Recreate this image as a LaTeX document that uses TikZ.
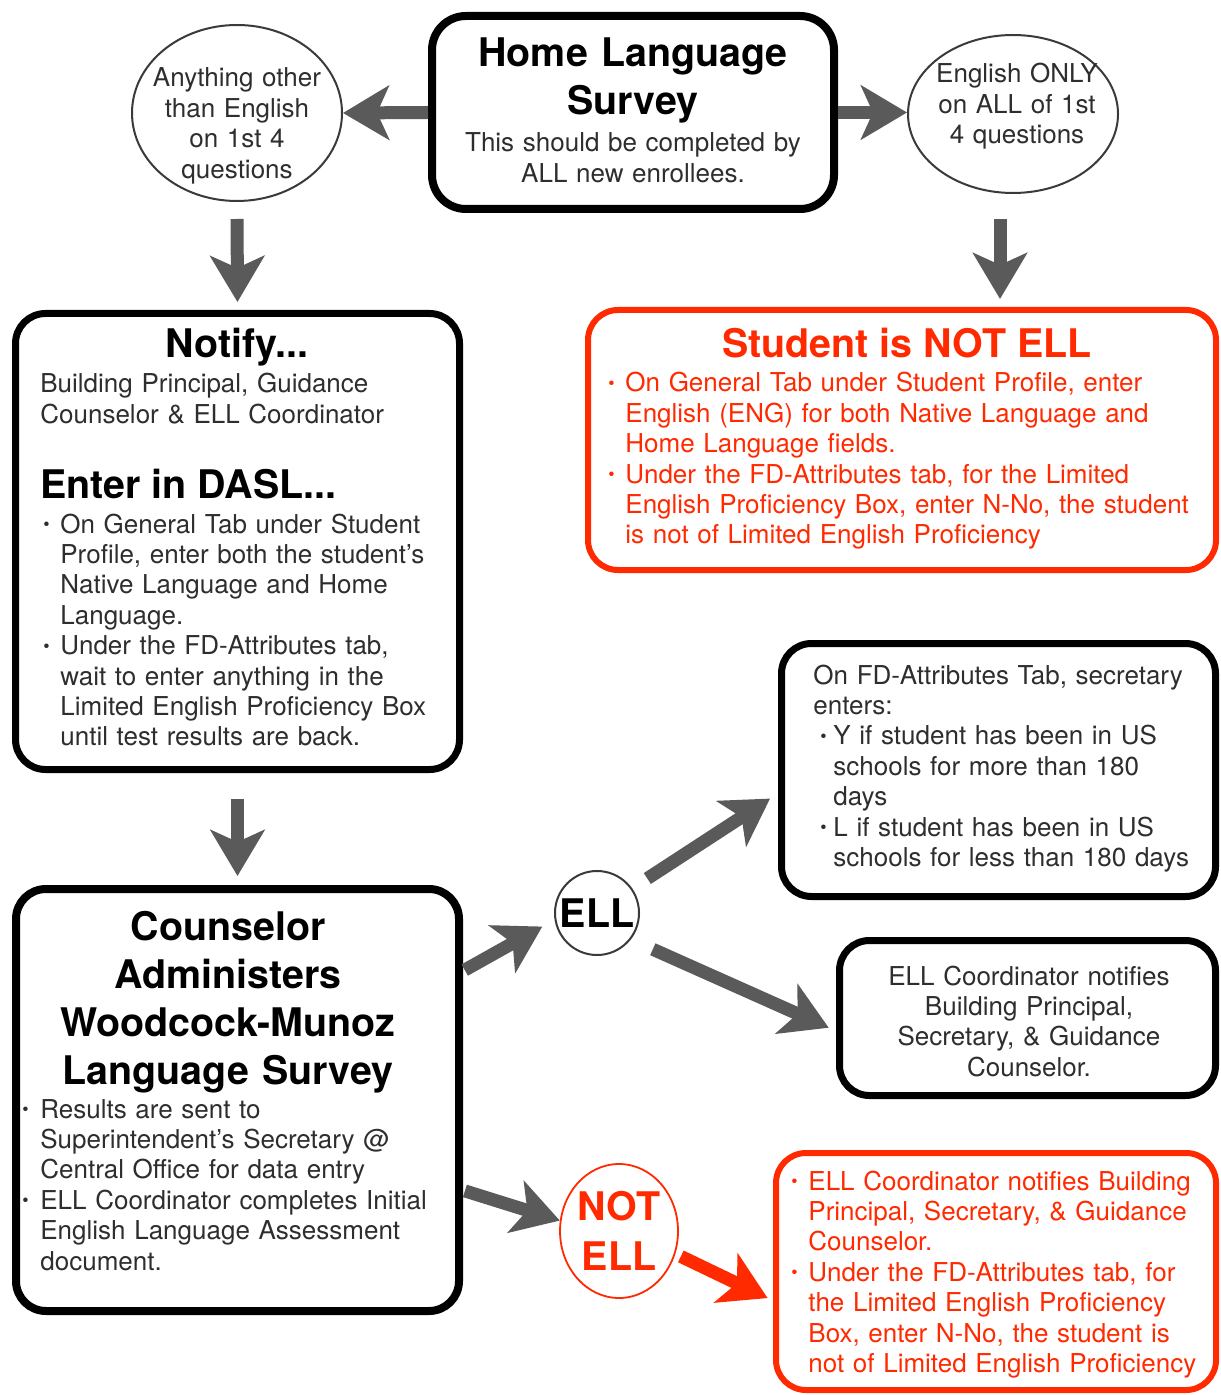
\documentclass[tikz,border=0pt]{standalone}
\usepackage{fontspec}
\setmainfont{TeX Gyre Heros}
\usetikzlibrary{arrows.meta,shapes.geometric,calc}
\definecolor{txt}{HTML}{2E2E2E}
\definecolor{agray}{HTML}{5A5A5A}
\definecolor{ered}{HTML}{FF2A00}
\definecolor{egray}{HTML}{3A3A3A}
\newcommand\bsym{\raisebox{1.2pt}{\fontsize{9}{9}\selectfont\textbullet}}
\newcommand\bul[2][0pt]{\noindent\hangindent=\dimexpr#1+#2\relax\hangafter=1\hspace*{#1}\makebox[#2][l]{\bsym}\ignorespaces}
\tikzset{
  bbox/.style={draw=black, line width=3.5pt, rounded corners=15pt, fill=white, inner sep=0pt},
  rbox/.style={draw=ered, line width=3pt, rounded corners=15pt, fill=white, inner sep=0pt},
  reg/.style={font=\fontsize{13}{15.2}\selectfont, text=txt, inner sep=0pt},
  ttl/.style={font=\bfseries\fontsize{19.7}{24}\selectfont, text=black, inner sep=0pt},
  garrow/.style={draw=agray, line width=6.5pt, -{Stealth[length=23pt,width=27pt,inset=6pt]}},
  rarrow/.style={draw=ered, line width=6.5pt, -{Stealth[length=23pt,width=27pt,inset=6pt]}},
}
\begin{document}
\begin{tikzpicture}[x=0.5pt,y=-0.5pt]
\path[use as bounding box, fill=white] (0,0) rectangle (1220,1395);

% boxes
\node[bbox, line width=4pt, rounded corners=17pt, minimum width=201pt, minimum height=96.5pt] (home) at (633,112.5) {};
\node[bbox, minimum width=222pt, minimum height=228pt] (notify) at (237.5,541.5) {};
\node[rbox, minimum width=314pt, minimum height=130pt] (redtop) at (902,440) {};
\node[bbox, line width=4pt, minimum width=221.5pt, minimum height=211pt] (couns) at (237.5,1100) {};
\node[bbox, minimum width=217pt, minimum height=126.5pt] (fd) at (998.5,770) {};
\node[bbox, minimum width=188pt, minimum height=77.5pt] (coord) at (1027.5,1018) {};
\node[rbox, minimum width=220pt, minimum height=118.5pt] (bred) at (996,1271.5) {};

% ellipses
\node[ellipse, draw=egray, line width=1pt, minimum width=105pt, minimum height=88pt, inner sep=0pt] (lell) at (237,113) {};
\node[ellipse, draw=egray, line width=1pt, minimum width=105pt, minimum height=79pt, inner sep=0pt] (rell) at (1013,114) {};
\node[circle, draw=egray, line width=1pt, minimum size=42pt, inner sep=0pt, ttl] (ell) at (597,913) {ELL};
\node[ellipse, draw=ered, line width=0.9pt, minimum width=59pt, minimum height=67pt, inner sep=0pt, ttl, text=ered, align=center, font=\bfseries\fontsize{19.7}{25}\selectfont] (notell) at (619,1231) {NOT\\ELL};

% texts
\node[ttl, anchor=base, text width=200pt, align=center] (homet) at (633,67) {Home Language\\Survey};
\node[reg, anchor=base, text width=200pt, align=center] (homes) at (633,152) {This should be completed by\\ALL new enrollees.};

\node[reg, anchor=base, text width=110pt, align=center] (lellt) at (237,87) {Anything other\\than English\\on 1st 4\\questions};
\node[reg, anchor=base, text width=110pt, align=center] (rellt) at (1017,83) {English ONLY\\on ALL of 1st\\4 questions};

\node[ttl, anchor=base] (notifyt) at (237,358) {Notify...};
\node[reg, anchor=base west, text width=215pt] (notifyb) at (40,393) {Building Principal, Guidance\newline Counselor \& ELL Coordinator};
\node[ttl, anchor=base west] (daslt) at (40,498) {Enter in DASL...};
\node[reg, anchor=base west, text width=215pt] (daslb) at (43,533) {\bul{8.5pt}On General Tab under Student\newline Profile, enter both the student’s\newline Native Language and Home\newline Language.\par
\bul{8.5pt}Under the FD-Attributes tab,\newline wait to enter anything in the\newline Limited English Proficiency Box\newline until test results are back.\par};

\node[ttl, text=ered, anchor=base] (redtopt) at (907,358) {Student is NOT ELL};
\node[reg, text=ered, anchor=base west, text width=330pt] (redtopb) at (608,392) {\bul{8.5pt}On General Tab under Student Profile, enter\newline English (ENG) for both Native Language and\newline Home Language fields.\par
\bul{8.5pt}Under the FD-Attributes tab, for the Limited\newline English Proficiency Box, enter N-No, the student\newline is not of Limited English Proficiency\par};

\node[ttl, anchor=base, text width=230pt, align=center] (counst) at (228,940) {Counselor\\Administers\\Woodcock-Munoz\\Language Survey};
\node[reg, anchor=base west, text width=240pt] (counsb) at (22,1118) {\bul{9pt}Results are sent to\newline Superintendent’s Secretary @\newline Central Office for data entry\par
\bul{9pt}ELL Coordinator completes Initial\newline English Language Assessment\newline document.\par};

\node[reg, anchor=base west, text width=230pt] (fdb) at (813,684) {\noindent On FD-Attributes Tab, secretary\newline enters:\par
\bul[3.5pt]{6.5pt}Y if student has been in US\newline schools for more than 180\newline days\par
\bul[3.5pt]{6.5pt}L if student has been in US\newline schools for less than 180 days\par};

\node[reg, anchor=base, text width=200pt, align=center] (coordb) at (1029,985) {ELL Coordinator notifies\\Building Principal,\\Secretary, \& Guidance\\Counselor.};

\node[reg, text=ered, anchor=base west, text width=240pt] (bredb) at (791,1190) {\bul{8.5pt}ELL Coordinator notifies Building\newline Principal, Secretary, \& Guidance\newline Counselor.\par
\bul{8.5pt}Under the FD-Attributes tab, for\newline the Limited English Proficiency\newline Box, enter N-No, the student is\newline not of Limited English Proficiency\par};

% arrows
\draw[garrow] (home.west) -- (lell.east);
\draw[garrow] (home.east) -- (home.east -| rell.west);
\draw[garrow, shorten <=8.5pt, shorten >=4pt] (lell.south) -- (notify.north);
\draw[garrow, shorten <=12.5pt, shorten >=4pt] ([xshift=-6.5pt]rell.south) -- ([xshift=-6.5pt]rell.south |- redtop.north);
\draw[garrow, shorten <=12.75pt, shorten >=4.5pt] (notify.south) -- (couns.north);
\draw[garrow, shorten <=1pt, shorten >=7pt] ($(couns.north east)!0.2!(couns.south east)$) -- (ell.189);
\draw[garrow, shorten <=1pt, shorten >=0pt] ($(couns.north east)!0.71!(couns.south east)$) -- (notell.170);
\draw[garrow, shorten <=9pt, shorten >=4.75pt] (ell.35) -- ($(fd.north west)!0.59!(fd.south west)$);
\draw[garrow, shorten <=12pt, shorten >=4pt] (ell.-38) -- ($(coord.north west)!0.58!(coord.south west)$);
\draw[rarrow, shorten <=3pt, shorten >=3pt] (notell.-22) -- ($(bred.north west)!0.62!(bred.south west)$);
\end{tikzpicture}
\end{document}
